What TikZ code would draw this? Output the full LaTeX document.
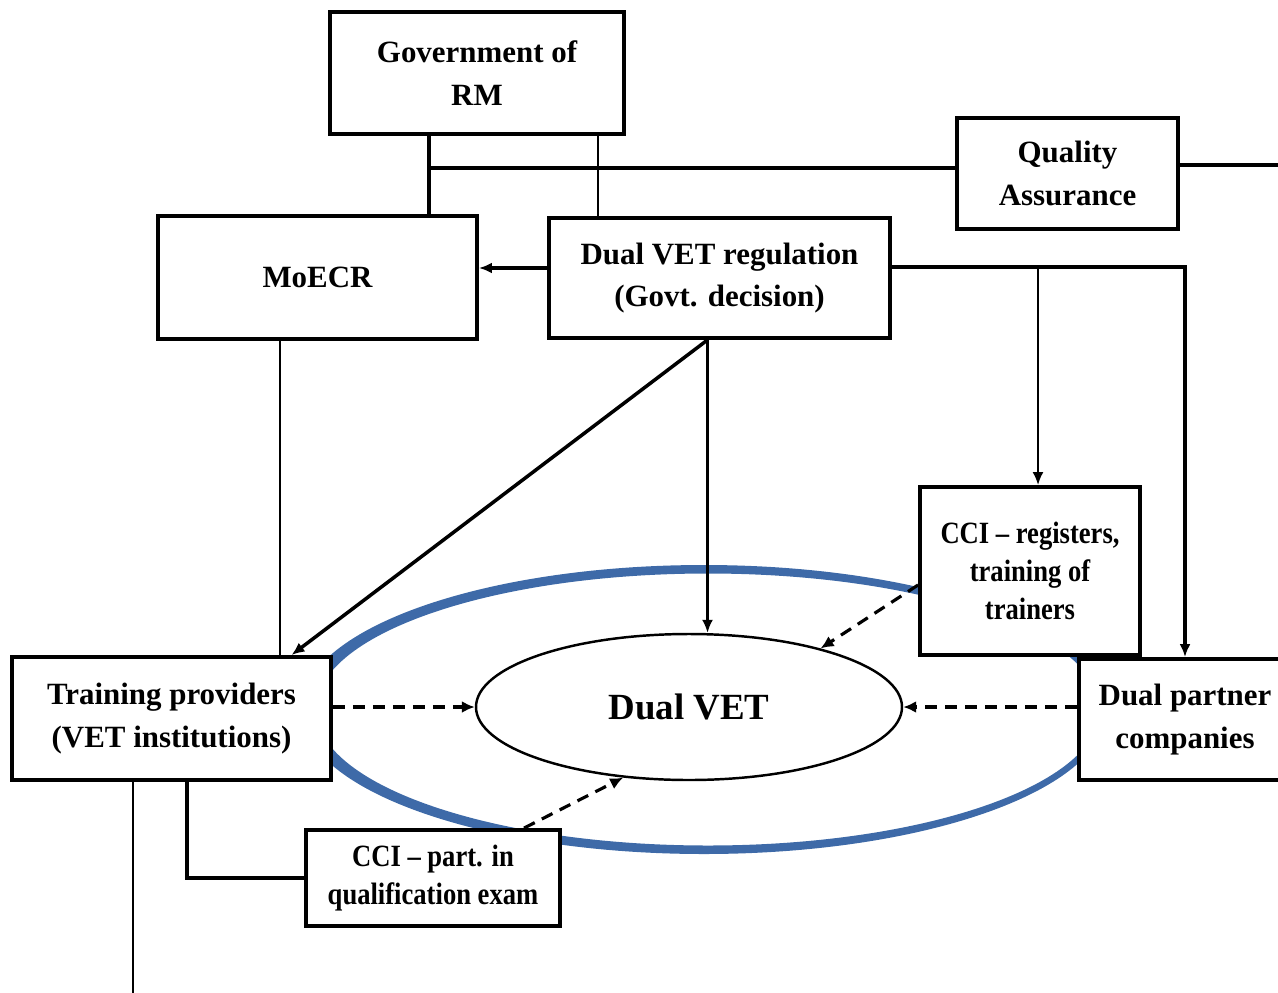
\documentclass[tikz,border=0pt]{standalone}
\usepackage{fontspec}
\setmainfont{Liberation Serif}
\newfontfamily\narrowfont{Liberation Serif}[FakeStretch=0.86, Ligatures=TeX]
\usetikzlibrary{arrows.meta,shapes.geometric}
\definecolor{ringblue}{RGB}{62,106,168}
\tikzset{
	orgbox/.style={draw, line width=1.1pt, fill=white, inner sep=0pt, align=center, font=\bfseries\fontsize{8.8}{12.2}\selectfont},
	narrowbox/.style={orgbox, font=\narrowfont\bfseries\fontsize{8.8}{10.9}\selectfont},
	thinline/.style={line width=0.6pt},
	thickline/.style={line width=0.9pt},
	tipped/.style={-{Latex[length=1.3mm,width=1.1mm]}},
	dasharrow/.style={line width=0.9pt, dash pattern=on 1.2mm off 0.8mm, -{Latex[length=1.3mm,width=1.2mm]}},
}

\begin{document}
\begin{tikzpicture}[x=0.1mm, y=-0.1mm]
			%%%%% START %%%%%
			\useasboundingbox (0,0) rectangle (1278,992);
			\clip (0,0) rectangle (1278,992);
			
			% blue ring round the dual system
			\fill[ringblue, even odd rule] (704,709.5) ellipse [x radius=40.3mm, y radius=14.45mm] (708,709.5) ellipse [x radius=39.2mm, y radius=13.6mm];
			
			\node[orgbox, minimum width=29.4mm, minimum height=12.2mm] (gov) at (477,73) {Government of\\RM};
			\node[orgbox, minimum width=22.1mm, minimum height=11.1mm] (qa) at (1067.5,173.5) {Quality\\Assurance};
			\node[orgbox, minimum width=31.9mm, minimum height=12.3mm] (moecr) at (317.5,277.5) {MoECR};
			\node[orgbox, minimum width=34.1mm, minimum height=12mm] (reg) at (719.5,278) {Dual VET regulation\\(Govt. decision)};
			\node[narrowbox, minimum width=22mm, minimum height=16.8mm] (ccireg) at (1030,571) {CCI – registers,\\training of\\trainers};
			\node[orgbox, minimum width=31.9mm, minimum height=12.3mm] (train) at (171.5,718.5) {Training providers\\(VET institutions)};
			\node[orgbox, minimum width=21.2mm, minimum height=12.1mm] (partner) at (1185,719.5) {Dual partner\\companies};
			\node[narrowbox, minimum width=25.4mm, minimum height=9.6mm] (exam) at (433,878) {CCI – part. in\\qualification exam};
			\node[draw, ellipse, line width=0.7pt, fill=white, inner sep=0pt, minimum width=42.6mm, minimum height=14.6mm, font=\bfseries\fontsize{10.5}{12}\selectfont] (dual) at (689,707) {Dual VET};
			
			% points where the lines leave the boxes
			\coordinate (govleft) at ([xshift=-4.8mm]gov.south);
			\coordinate (govright) at ([xshift=12.1mm]gov.south);
			\coordinate (qaleft) at ([yshift=0.55mm]qa.west);
			\coordinate (qaright) at ([yshift=0.85mm]qa.east);
			\coordinate (regwest) at ([yshift=1mm]reg.west);
			\coordinate (regeast) at ([yshift=1.1mm]reg.east);
			\coordinate (regsouth) at ([xshift=-1.2mm]reg.south);
			\coordinate (ccitop) at ([xshift=0.8mm]ccireg.north);
			\coordinate (moecrsouth) at ([xshift=-3.75mm]moecr.south);
			\coordinate (traintop) at ([xshift=12mm]train.north);
			\coordinate (trainleft) at ([xshift=-3.85mm]train.south);
			\coordinate (trainright) at ([xshift=1.55mm]train.south);
			\coordinate (ccilow) at ([yshift=-1.4mm]ccireg.west);
			\coordinate (examtop) at ([xshift=9.1mm]exam.north);
			
			\draw[line width=1.2pt] (govleft) -- (govleft |- moecr.north);
			\draw[thinline] (govright) -- (govright |- reg.north);
			\draw[thickline] (govleft |- qaleft) -- (qaleft);
			\draw[thickline] (qaright) -- ++(120,0);
			
			\draw[thickline, tipped] (regwest) -- (regwest -| moecr.east);
			\draw[thickline, tipped] (regeast) -| (partner.north);
			\draw[thinline, tipped] (regeast -| ccitop) -- (ccitop);
			\draw[line width=1pt, tipped] (regsouth) -- (traintop);
			\draw[thinline, tipped] (regsouth) -- (regsouth |- dual.north);
			\draw[thinline] (moecrsouth) -- (moecrsouth |- train.north);
			
			\draw[dasharrow] (train.east |- dual.west) -- (dual.west);
			\draw[dasharrow] (partner.west |- dual.east) -- (dual.east);
			\draw[dasharrow] (ccilow) -- (dual.24);
			\draw[dasharrow] (examtop) -- (dual.227);
			
			\draw[thickline] (trainright) |- (exam.west);
			\draw[thinline] (trainleft) -- ++(0,230);
			%%%%% END %%%%%
		\end{tikzpicture}
\end{document}
